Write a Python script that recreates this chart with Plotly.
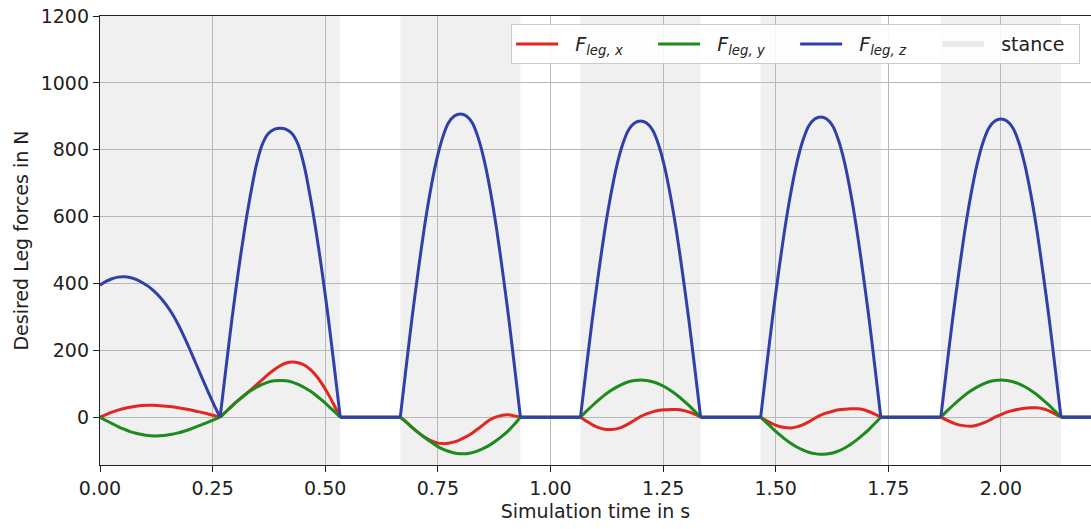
import numpy as np
import plotly.graph_objects as go

# time grid: 75 samples per second (stance = 20 samples, swing = 10 samples)
n_samples = 166
dt = 1 / 75
stance_start_idx = [0, 20, 50, 80, 110, 140]

# shaded stance intervals (s)
stance_t0 = [0.0, 0.6667, 1.0667, 1.4667, 1.8667]
stance_t1 = [0.5333, 0.9333, 1.3333, 1.7333, 2.1333]

# F_leg,z per stance (21 samples each)
fz_s0 = [395, 406, 414, 419, 420, 418, 412, 403, 392, 377, 359, 337, 310, 278, 241, 201, 159, 117, 76, 36, 0]
fz_s1 = [0, 151, 298, 432, 553, 660, 752, 815, 848, 861, 864, 861, 848, 815, 752, 660, 553, 432, 298, 151, 0]
fz_s2 = [0, 154, 304, 440, 567, 676, 766, 834, 880, 901, 907, 901, 880, 834, 766, 676, 567, 440, 304, 154, 0]
fz_s3 = [0, 151, 297, 430, 554, 660, 749, 815, 859, 880, 886, 880, 859, 815, 749, 660, 554, 430, 297, 151, 0]
fz_s4 = [0, 153, 301, 436, 561, 669, 759, 826, 871, 892, 898, 892, 871, 826, 759, 669, 561, 436, 301, 153, 0]
fz_s5 = [0, 152, 299, 433, 558, 665, 754, 821, 865, 886, 892, 886, 865, 821, 754, 665, 558, 433, 299, 152, 0]

# F_leg,x per stance
fx_s0 = [0, 8, 15, 21, 26, 30, 33, 35, 36, 35.5, 34.5, 33, 31, 28.5, 25.5, 22, 18, 14, 9.5, 5, 0]
fx_s1 = [0, 17, 34, 50, 65, 80, 96, 112, 128, 142, 154, 162, 165, 163, 156, 143, 124, 99, 69, 35, 0]
fx_s2 = [0, -15, -31, -46, -59, -69, -76, -79, -78, -74, -67, -58, -47, -34, -20, -7, 1, 6, 7, 4, 0]
fx_s3 = [0, -12, -23, -31, -36, -37, -35, -29, -20, -9, 2, 10, 16, 20, 22, 23, 23, 21, 16, 9, 0]
fx_s4 = [0, -11, -20, -27, -31, -32, -29, -23, -14, -3, 6, 13, 18, 22, 24, 25, 25, 23, 17, 9, 0]
fx_s5 = [0, -9, -17, -23, -26, -27, -24, -18, -10, 0, 8, 15, 20, 24, 27, 28, 28, 25, 19, 10, 0]

# F_leg,y per stance
fy_s0 = [0, -10, -19, -28, -36, -43, -48, -52, -55, -56, -55.5, -54, -51, -47, -42, -36, -29, -22, -15, -7, 0]
fy_s1 = [0, 17, 34, 50, 65, 78, 89, 98, 105, 109, 110, 109, 105, 98, 89, 78, 65, 50, 34, 17, 0]
fy_s2 = [0, -15, -31, -46, -60, -73, -85, -95, -102, -107, -109, -109, -106, -100, -92, -82, -70, -56, -40, -21, 0]
fy_s3 = [0, 18, 35, 51, 66, 79, 90, 99, 106, 110, 111, 110, 106, 100, 91, 80, 67, 52, 36, 18, 0]
fy_s4 = [0, -17, -34, -50, -65, -78, -89, -98, -105, -109, -111, -110, -107, -101, -92, -81, -68, -53, -37, -19, 0]
fy_s5 = [0, 18, 35, 51, 66, 79, 90, 99, 106, 110, 111, 110, 106, 100, 91, 80, 67, 52, 36, 18, 0]

x_ticks = [0.0, 0.25, 0.5, 0.75, 1.0, 1.25, 1.5, 1.75, 2.0]
y_ticks = [0, 200, 400, 600, 800, 1000, 1200]

series = [
    ("  <i>F</i><sub><i>leg, x</i></sub>", "#e3261f", [fx_s0, fx_s1, fx_s2, fx_s3, fx_s4, fx_s5]),
    ("  <i>F</i><sub><i>leg, y</i></sub>", "#1c8a1c", [fy_s0, fy_s1, fy_s2, fy_s3, fy_s4, fy_s5]),
    ("  <i>F</i><sub><i>leg, z</i></sub>", "#3040a8", [fz_s0, fz_s1, fz_s2, fz_s3, fz_s4, fz_s5]),
]

t = np.arange(n_samples) * dt

FONT = "DejaVu Sans"
fig = go.Figure()

for name, color, parts in series:
    first = True
    prev_end = 0
    for start, vals in zip(stance_start_idx, parts):
        # flat swing segment before this stance
        if start > prev_end:
            fig.add_trace(go.Scatter(x=t[prev_end:start + 1], y=np.zeros(start + 1 - prev_end),
                                     mode="lines", line=dict(color=color, width=3),
                                     legendgroup=name, showlegend=False, hoverinfo="skip"))
        fig.add_trace(go.Scatter(x=t[start:start + len(vals)], y=vals, mode="lines",
                                 line=dict(color=color, width=3, shape="spline", smoothing=0.8),
                                 name=name, legendgroup=name, showlegend=first))
        first = False
        prev_end = start + len(vals) - 1
    fig.add_trace(go.Scatter(x=t[prev_end:], y=np.zeros(n_samples - prev_end),
                             mode="lines", line=dict(color=color, width=3),
                             legendgroup=name, showlegend=False, hoverinfo="skip"))

fig.add_trace(go.Scatter(x=[None], y=[None], mode="none", fill="toself",
                         fillcolor="#ebebeb", name="  stance"))

for a, b in zip(stance_t0, stance_t1):
    fig.add_shape(type="rect", xref="x", yref="paper", x0=a, x1=b, y0=0, y1=1,
                  fillcolor="#f0f0f0", line=dict(width=0), layer="below")

fig.update_layout(
    width=1091, height=529,
    margin=dict(l=100, r=0, t=16, b=64),
    paper_bgcolor="white", plot_bgcolor="white",
    font=dict(family=FONT, size=19, color="#222222"),
    showlegend=True,
    legend=dict(orientation="h", x=0.989, xanchor="right", y=0.982, yanchor="top",
                bgcolor="rgba(255,255,255,0.85)", bordercolor="#cccccc", borderwidth=1,
                font=dict(family=FONT, size=19, color="#222222"),
                entrywidth=85, entrywidthmode="pixels", itemwidth=42),
)

fig.update_xaxes(
    range=[0, 2.2], tickvals=x_ticks, tickformat=".2f",
    showgrid=True, gridcolor="#b8b8b8", gridwidth=1.2, zeroline=False,
    showline=True, linecolor="#222222", linewidth=1.3, mirror=True,
    ticks="outside", ticklen=6, tickwidth=1.3, tickcolor="#222222",
    title=dict(text="Simulation time in s", standoff=6, font=dict(size=19)),
    automargin=False,
)
fig.update_yaxes(
    range=[-143, 1200], tickvals=y_ticks,
    showgrid=True, gridcolor="#b8b8b8", gridwidth=1.2, zeroline=False,
    showline=True, linecolor="#222222", linewidth=1.3, mirror=False,
    ticks="outside", ticklen=6, tickwidth=1.3, tickcolor="#222222",
    title=dict(text="Desired Leg forces in N", standoff=7, font=dict(size=19)),
    automargin=False,
)

fig.write_html("out.html")
